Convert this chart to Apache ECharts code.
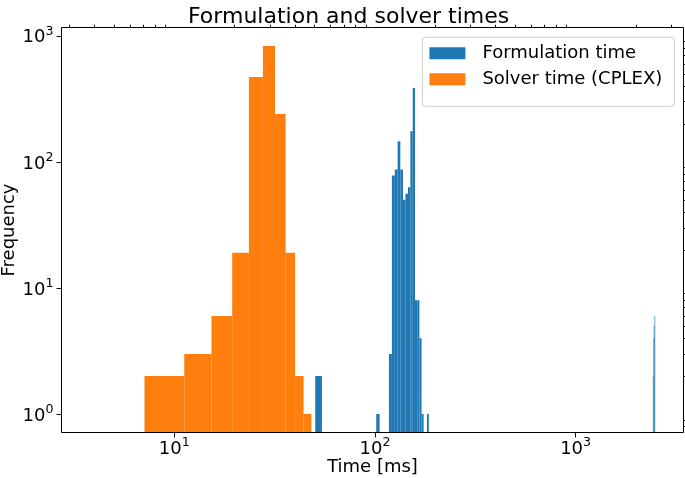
<!DOCTYPE html>
<html>
<head>
<meta charset="utf-8">
<script src="https://cdn.jsdelivr.net/npm/echarts@6/dist/echarts.min.js"></script>
<style>
html,body{margin:0;padding:0;background:#ffffff;}
#chart{width:685px;height:478px;}
</style>
</head>
<body>
<div id="chart"></div>
<script>
const FONT = 'DejaVu Sans';
const chartTitle = 'Formulation and solver times';
const seriesNames = ['Formulation time', 'Solver time (CPLEX)'];
const xAxisName = 'Time [ms]';
const yAxisName = 'Frequency';

// Formulation time histogram (ms): bin left edge, bin right edge, frequency
const formLo    = [50.4, 101.5, 117.4, 121.5, 125.6, 129.7, 133.8, 137.9, 142.0, 146.1, 150.2, 154.3, 158.4, 162.5, 166.6, 170.7, 181.5, 2440, 2452, 2464, 2476];
const formHi    = [54.4, 105.5, 121.5, 125.6, 129.7, 133.8, 137.9, 142.0, 146.1, 150.2, 154.3, 158.4, 162.5, 166.6, 170.7, 174.8, 185.5, 2444, 2456, 2468, 2480];
const formCount = [2,    1,     3,     78,    87,    146,   87,    50,    56,    63,    175,   385,   8,     8,     4,     1,     1,     2,    4,    5,    6];

// Solver time (CPLEX) histogram (ms): 10 bins
const solverLo    = [7.10, 11.21, 15.32, 19.43, 23.54, 27.65, 31.76, 35.87, 39.98, 44.09];
const solverHi    = [11.21, 15.32, 19.43, 23.54, 27.65, 31.76, 35.87, 39.98, 44.09, 48.20];
const solverCount = [2,    3,     6,     19,    471,   831,   240,   19,    2,     1];

// Axis ranges and ticks
const xRange = [2.74, 3450];
const yRange = [0.714, 1164];
const xMajorTicks = [10, 100, 1000];
const xMinorTicks = [3, 4, 5, 6, 7, 8, 9, 20, 30, 40, 50, 60, 70, 80, 90, 200, 300, 400, 500, 600, 700, 800, 900, 2000, 3000];
const yMajorTicks = [1, 10, 100, 1000];
const yMinorTicks = [0.8, 0.9, 2, 3, 4, 5, 6, 7, 8, 9, 20, 30, 40, 50, 60, 70, 80, 90, 200, 300, 400, 500, 600, 700, 800, 900];

const colors = ['#1f77b4', '#ff7f0e'];

function toRows(lo, hi, cnt) {
  return lo.map((v, i) => [v, hi[i], cnt[i]]);
}

function renderBar(params, api) {
  const lo = api.value(0), hi = api.value(1), n = api.value(2);
  const cs = params.coordSys;
  const p0 = api.coord([lo, n]);
  const p1 = api.coord([hi, n]);
  const bottom = cs.y + cs.height;
  let x = p0[0], w = p1[0] - p0[0], op = 1;
  if (w < 1) { x = x + w / 2 - 0.75; w = 1.5; op = 0.45; }
  return {
    type: 'rect',
    shape: { x: x, y: p0[1], width: w, height: bottom - p0[1] },
    style: { fill: api.visual('color'), opacity: op }
  };
}

function powLabel(v) {
  const e = Math.round(Math.log10(v));
  return '{b|10}{s|' + e + '}';
}
const labelRich = {
  b: { fontFamily: FONT, fontSize: 18, color: '#000', lineHeight: 22, verticalAlign: 'bottom' },
  s: { fontFamily: FONT, fontSize: 12.6, color: '#000', lineHeight: 14, verticalAlign: 'top' }
};
const tickStyle = { color: '#111', width: 1 };

const option = {
  animation: false,
  backgroundColor: '#ffffff',
  title: {
    text: chartTitle,
    left: 183, top: 1,
    textStyle: { fontFamily: FONT, fontSize: 22, fontWeight: 'normal', color: '#000' }
  },
  legend: {
    data: seriesNames,
    orient: 'vertical',
    right: 10.7, top: 37.3,
    icon: 'rect',
    itemWidth: 36, itemHeight: 12, itemGap: 0,
    selectedMode: false,
    padding: [3, 12, 14, 7],
    backgroundColor: 'rgba(255,255,255,0.8)',
    borderColor: '#cccccc', borderWidth: 1, borderRadius: 3,
    textStyle: { fontFamily: FONT, fontSize: 18, color: '#000', lineHeight: 26, padding: [0, 0, 0, 12] }
  },
  grid: {
    left: 61.5, right: 1.5, top: 27.5, bottom: 45.5,
    show: true, borderColor: '#000', borderWidth: 1, backgroundColor: 'rgba(0,0,0,0)',
    z: 10,
    outerBoundsMode: 'none',
    containLabel: false
  },
  xAxis: [
    {
      type: 'log', logBase: 10, min: xRange[0], max: xRange[1], z: 10,
      axisLine: { show: false }, splitLine: { show: false },
      axisTick: { show: true, customValues: xMajorTicks, length: 5, lineStyle: tickStyle },
      axisLabel: { customValues: xMajorTicks, formatter: powLabel, rich: labelRich, margin: 4 },
      name: xAxisName, nameLocation: 'middle', nameGap: 26, nameMoveOverlap: false,
      nameTextStyle: { fontFamily: FONT, fontSize: 18, color: '#000' }
    },
    {
      type: 'log', logBase: 10, min: xRange[0], max: xRange[1], z: 10,
      axisLine: { show: false }, splitLine: { show: false },
      axisTick: { show: true, customValues: xMinorTicks, length: 2.8, lineStyle: tickStyle },
      axisLabel: { show: false }
    }
  ],
  yAxis: [
    {
      type: 'log', logBase: 10, min: yRange[0], max: yRange[1], z: 10,
      axisLine: { show: false }, splitLine: { show: false },
      axisTick: { show: true, customValues: yMajorTicks, length: 5, lineStyle: tickStyle },
      axisLabel: { customValues: yMajorTicks, formatter: powLabel, rich: labelRich, margin: 8 },
      name: yAxisName, nameLocation: 'middle', nameGap: 43, nameRotate: 90, nameMoveOverlap: false,
      nameTextStyle: { fontFamily: FONT, fontSize: 18, color: '#000' }
    },
    {
      type: 'log', logBase: 10, min: yRange[0], max: yRange[1], z: 10,
      axisLine: { show: false }, splitLine: { show: false },
      axisTick: { show: true, customValues: yMinorTicks, length: 2.8, lineStyle: tickStyle },
      axisLabel: { show: false }
    }
  ],
  series: [
    {
      name: seriesNames[0], type: 'custom', xAxisIndex: 0, yAxisIndex: 0,
      itemStyle: { color: colors[0] },
      renderItem: renderBar, encode: { x: [0, 1], y: 2 },
      data: toRows(formLo, formHi, formCount), clip: true
    },
    {
      name: seriesNames[1], type: 'custom', xAxisIndex: 0, yAxisIndex: 0,
      itemStyle: { color: colors[1] },
      renderItem: renderBar, encode: { x: [0, 1], y: 2 },
      data: toRows(solverLo, solverHi, solverCount), clip: true
    }
  ]
};

const chart = echarts.init(document.getElementById('chart'), null, { renderer: 'canvas' });
chart.setOption(option);
</script>
</body>
</html>
